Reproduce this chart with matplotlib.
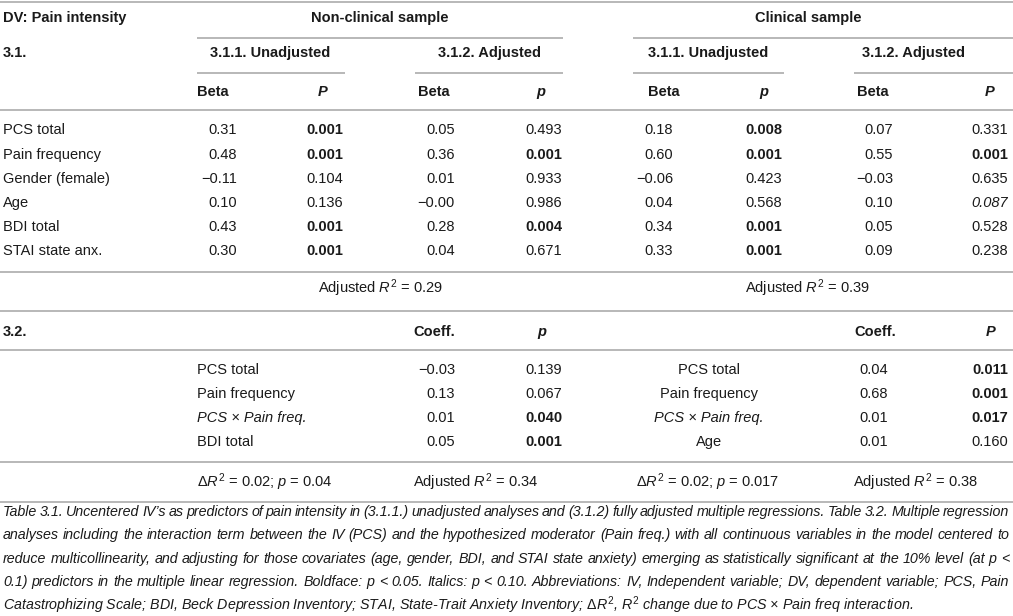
import matplotlib
matplotlib.use("Agg")
import matplotlib.pyplot as plt

plt.rcParams['font.family'] = ['Liberation Sans', 'DejaVu Sans']
plt.rcParams['mathtext.fontset'] = 'custom'
plt.rcParams['mathtext.rm'] = 'Liberation Sans'
plt.rcParams['mathtext.it'] = 'Liberation Sans:italic'
plt.rcParams['mathtext.bf'] = 'Liberation Sans:bold'

# ---- data: table 3.1 ----
predictors = ["PCS total", "Pain frequency", "Gender (female)", "Age", "BDI total", "STAI state anx."]
nc_unadj_beta = ["0.31", "0.48", "\u22120.11", "0.10", "0.43", "0.30"]
nc_unadj_p = ["0.001", "0.001", "0.104", "0.136", "0.001", "0.001"]
nc_adj_beta = ["0.05", "0.36", "0.01", "\u22120.00", "0.28", "0.04"]
nc_adj_p = ["0.493", "0.001", "0.933", "0.986", "0.004", "0.671"]
cl_unadj_beta = ["0.18", "0.60", "\u22120.06", "0.04", "0.34", "0.33"]
cl_unadj_p = ["0.008", "0.001", "0.423", "0.568", "0.001", "0.001"]
cl_adj_beta = ["0.07", "0.55", "\u22120.03", "0.10", "0.05", "0.09"]
cl_adj_p = ["0.331", "0.001", "0.635", "0.087", "0.528", "0.238"]
adj_r2_31 = ["0.29", "0.39"]

# ---- data: table 3.2 ----
nc_terms = ["PCS total", "Pain frequency", "PCS \u00d7 Pain freq.", "BDI total"]
nc_coef = ["\u22120.03", "0.13", "0.01", "0.05"]
nc_p = ["0.139", "0.067", "0.040", "0.001"]
cl_terms = ["PCS total", "Pain frequency", "PCS \u00d7 Pain freq.", "Age"]
cl_coef = ["0.04", "0.68", "0.01", "0.01"]
cl_p = ["0.011", "0.001", "0.017", "0.160"]
delta_r2 = ["0.02", "0.02"]
delta_p = ["0.04", "0.017"]
adj_r2_32 = ["0.34", "0.38"]

caption = [
    "Table 3.1. Uncentered IV\u2019s as predictors of pain intensity in (3.1.1.) unadjusted analyses and (3.1.2) fully adjusted multiple regressions. Table 3.2. Multiple regression",
    "analyses including the interaction term between the IV (PCS) and the hypothesized moderator (Pain freq.) with all continuous variables in the model centered to",
    "reduce multicollinearity, and adjusting for those covariates (age, gender, BDI, and STAI state anxiety) emerging as statistically significant at the 10% level (at p <",
    "0.1) predictors in the multiple linear regression. Boldface: p < 0.05. Italics: p < 0.10. Abbreviations: IV, Independent variable; DV, dependent variable; PCS, Pain",
    "Catastrophizing Scale; BDI, Beck Depression Inventory; STAI, State-Trait Anxiety Inventory; $\\Delta R^2$, $R^2$ change due to PCS \u00d7 Pain freq interaction.",
]

FS = 10.5
CAP_FS = 10.3
TXT = "#1a1a1a"
RULE = "#b8b8b8"

fig = plt.figure(figsize=(10.13, 6.16), dpi=100)
ax = fig.add_axes([0, 0, 1, 1])
ax.set_xlim(0, 1013)
ax.set_ylim(616, 0)
ax.axis("off")


def txt(x, y, s, ha="left", weight="normal", style="normal", size=FS):
    return ax.text(x, y, s, ha=ha, va="center", fontsize=size, color=TXT,
                   fontweight=weight, fontstyle=style)


def rule(y, x0=0, x1=1013):
    ax.plot([x0, x1], [y, y], color=RULE, lw=1.4, solid_capstyle="butt")


def pstyle(p, use_italic=True):
    v = float(p)
    if v < 0.05:
        return "bold", "normal"
    if v < 0.10 and use_italic:
        return "normal", "italic"
    return "normal", "normal"


# rules
for y in [2, 110, 272, 311, 350, 462, 502]:
    rule(y)
rule(38, 197, 563)
rule(38, 633, 1013)
for a, b in [(197, 345), (415, 563), (633, 784), (854, 1013)]:
    rule(73, a, b)

# header
txt(3, 18, "DV: Pain intensity", weight="bold")
txt(380, 18, "Non-clinical sample", ha="center", weight="bold")
txt(808, 18, "Clinical sample", ha="center", weight="bold")
txt(3, 53, "3.1.", weight="bold")
for cx, s in [(270, "3.1.1. Unadjusted"), (489, "3.1.2. Adjusted"),
              (708, "3.1.1. Unadjusted"), (913, "3.1.2. Adjusted")]:
    txt(cx, 53, s, ha="center", weight="bold")
for bx, px, plab in [(197, 327, "P"), (418, 545, "p"), (648, 768, "p"), (857, 994, "P")]:
    txt(bx, 92, "Beta", weight="bold")
    txt(px, 92, plab, ha="right", weight="bold", style="italic")

# table 3.1 body
row_y = [130, 155, 179, 203, 227, 251]
cols = [(237, nc_unadj_beta, 343, nc_unadj_p),
        (455, nc_adj_beta, 562, nc_adj_p),
        (673, cl_unadj_beta, 782, cl_unadj_p),
        (893, cl_adj_beta, 1008, cl_adj_p)]
for i, y in enumerate(row_y):
    txt(3, y, predictors[i])
    for bx, betas, px, ps in cols:
        txt(bx, y, betas[i], ha="right")
        w, st = pstyle(ps[i])
        txt(px, y, ps[i], ha="right", weight=w, style=st)

txt(380, 288, "Adjusted $R^2$ = " + adj_r2_31[0], ha="center")
txt(807, 288, "Adjusted $R^2$ = " + adj_r2_31[1], ha="center")

# table 3.2
txt(3, 332, "3.2.", weight="bold")
txt(434, 332, "Coeff.", ha="center", weight="bold")
txt(546, 332, "p", ha="right", weight="bold", style="italic")
txt(875, 332, "Coeff.", ha="center", weight="bold")
txt(995, 332, "P", ha="right", weight="bold", style="italic")

mod_y = [370, 394, 418, 442]
for i, y in enumerate(mod_y):
    st = "italic" if "\u00d7" in nc_terms[i] else "normal"
    txt(197, y, nc_terms[i], style=st)
    txt(455, y, nc_coef[i], ha="right")
    w, s2 = pstyle(nc_p[i], use_italic=False)
    txt(562, y, nc_p[i], ha="right", weight=w, style=s2)

    st = "italic" if "\u00d7" in cl_terms[i] else "normal"
    txt(709, y, cl_terms[i], ha="center", style=st)
    txt(888, y, cl_coef[i], ha="right")
    w, s2 = pstyle(cl_p[i], use_italic=False)
    txt(1008, y, cl_p[i], ha="right", weight=w, style=s2)

txt(197, 482, "$\\Delta R^2$ = " + delta_r2[0] + "; $p$ = " + delta_p[0])
txt(413, 482, "Adjusted $R^2$ = " + adj_r2_32[0])
txt(708, 482, "$\\Delta R^2$ = " + delta_r2[1] + "; $p$ = " + delta_p[1], ha="center")
txt(853, 482, "Adjusted $R^2$ = " + adj_r2_32[1])

# caption, justified except last line
fig.canvas.draw()
renderer = fig.canvas.get_renderer()
cap_y = [512, 535, 559, 582, 605]
x_left, x_right = 3, 1009
for k, line in enumerate(caption):
    if k == len(caption) - 1:
        txt(x_left, cap_y[k], line, style="italic", size=CAP_FS)
        continue
    words = line.split(" ")
    items = [txt(0, cap_y[k], w, style="italic", size=CAP_FS) for w in words]
    widths = [t.get_window_extent(renderer).width for t in items]
    gap = (x_right - x_left - sum(widths)) / (len(words) - 1)
    x = x_left
    for t, w in zip(items, widths):
        t.set_x(x)
        x += w + gap

fig.savefig("out.png", dpi=100)
